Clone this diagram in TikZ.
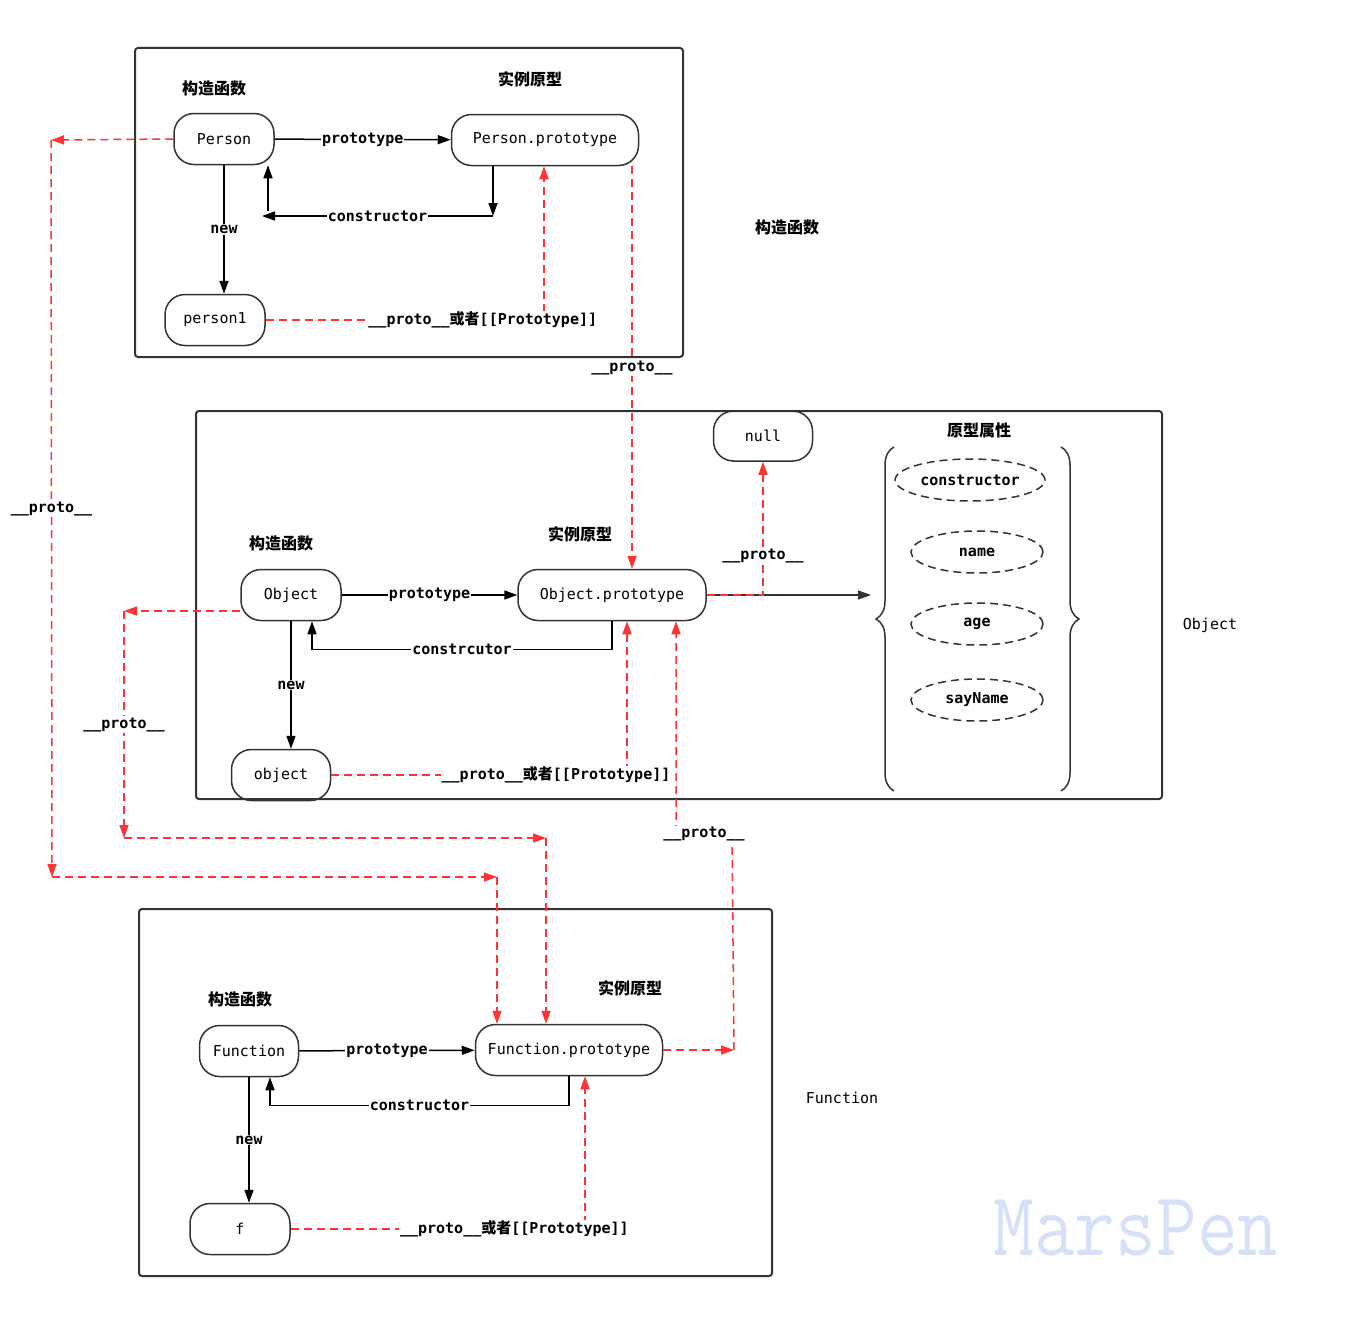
\documentclass[tikz,border=0pt]{standalone}
\usepackage{fontspec}
\setmainfont{DejaVu Sans Mono}
\newfontfamily\cjk{Noto Sans CJK SC}
\newfontfamily\markfont{Latin Modern Mono}
\usetikzlibrary{arrows.meta,shapes.geometric,decorations.pathreplacing}
\definecolor{protored}{RGB}{255,51,51}
\definecolor{framegray}{RGB}{51,51,51}
\definecolor{markblue}{RGB}{214,224,246}
\tikzset{
  frame/.style={draw=framegray, line width=2pt, rounded corners=3pt},
  obj/.style={draw=framegray, line width=1.5pt, rounded corners=20pt, minimum height=51pt, font=\fontsize{15}{15}\selectfont},
  prop/.style={draw=framegray, ellipse, line width=1.5pt, dash pattern=on 8pt off 5pt, minimum width=132pt, minimum height=42pt, font=\bfseries\fontsize{15}{15}\selectfont},
  title/.style={font=\cjk\bfseries\fontsize{16}{16}\selectfont},
  side/.style={font=\fontsize{15}{15}\selectfont},
  lbl/.style={fill=white, inner sep=1pt, font=\bfseries\fontsize{15}{15}\selectfont},
  link/.style={draw, line width=1.5pt, -{Triangle[length=13pt,width=9pt]}},
  proto/.style={draw=protored, line width=1.5pt, dash pattern=on 8pt off 5pt, -{Triangle[length=13pt,width=9pt]}},
  propbrace/.style={draw=framegray, line width=1.5pt, decorate, decoration={brace, amplitude=18pt, aspect=0.5}}
}
\newcommand{\protolink}{\_\_proto\_\_{\cjk 或者}[[Prototype]]}
\begin{document}
\begin{tikzpicture}[x=1pt,y=-1pt]
\useasboundingbox (0,0) rectangle (1352,1338);
\draw[frame] (135,48) rectangle (683,357);
\draw[frame] (196,411) rectangle (1162,799);
\draw[frame] (139,909) rectangle (772,1276);

\node[title] (ctorA) at (214,88) {构造函数};
\node[title] (instA) at (530,79) {实例原型};
\node[obj, minimum width=100pt] (Person) at (224,139) {Person};
\node[obj, minimum width=187pt] (PersonProto) at (545,140) {Person.prototype};
\node[obj, minimum width=100pt] (person1) at (215,320) {person1};

\node[title] (ctorB) at (281,543) {构造函数};
\node[title] (instB) at (580,534) {实例原型};
\node[title] (propT) at (979,430) {原型属性};
\node[obj, minimum width=100pt] (Object) at (291,595) {Object};
\node[obj, minimum width=188pt] (ObjProto) at (612,595) {Object.prototype};
\node[obj, minimum width=99pt] (object) at (281,775) {object};
\node[obj, minimum width=99pt, minimum height=50pt] (null) at (763,436) {null};
\node[prop] (pCtor) at (970,480) {constructor};
\node[prop] (pName) at (977,552) {name};
\node[prop] (pAge) at (977,624) {age};
\node[prop] (pSay) at (977,700) {sayName};

\node[title] (ctorC) at (240,999) {构造函数};
\node[title] (instC) at (630,988) {实例原型};
\node[obj, minimum width=99pt] (Function) at (249,1051) {Function};
\node[obj, minimum width=187pt] (FuncProto) at (569,1050) {Function.prototype};
\node[obj, minimum width=100pt] (f) at (240,1229) {f};

\node[title] (sideA) at (787,227) {构造函数};
\node[side] (sideB) at (1210,625) {Object};
\node[side] (sideC) at (842,1098) {Function};
\node[text=markblue, font=\markfont\fontsize{79}{79}\selectfont] (mark) at (1136,1228) {\scalebox{1}[1.15]{MarsPen}};

\coordinate (pBend) at (493,216);
\coordinate (pBack) at (262,216);
\coordinate (pLeft) at (51,140);
\coordinate (pDown) at (52,877);
\coordinate (pRight) at (497,877);
\coordinate (oLeft) at (124,611);
\coordinate (oDown) at (124,838);
\coordinate (oRight) at (546,838);
\coordinate (fEnd) at (734,1050);
\coordinate (fUp) at (732,834);
\coordinate (oUp) at ([xshift=64pt]ObjProto.south);
\coordinate (braceTip) at (871,595);

\path[link] (Person) -- node[lbl]{prototype} (PersonProto);
\path[link] ([xshift=-52pt]PersonProto.south) -- (pBend);
\path[link] (pBend) -- node[lbl]{constructor} (pBack);
\path[link] ([xshift=6pt,yshift=5pt]pBack) -- ([xshift=44pt]Person.south);
\path[link] (Person.south) -- node[lbl]{new} (Person.south |- person1.north);
\path[proto] (person1) -| node[lbl, pos=0.39]{\protolink} ([xshift=-1pt]PersonProto.south);
\path[proto] ([xshift=87pt]PersonProto.south) -- node[lbl]{\_\_proto\_\_} ([xshift=20pt]ObjProto.north);
\path[proto] (Person.west) -- (pLeft);
\path[proto] (pLeft) -- node[lbl]{\_\_proto\_\_} (pDown);
\path[proto] (pDown) -- (pRight);
\path[proto] (pRight) -- (FuncProto.north -| pRight);

\path[link] (Object) -- node[lbl]{prototype} (ObjProto);
\path[link] (ObjProto.south) -- ++(0,28) -| node[lbl, pos=0.25]{constrcutor} ([xshift=21pt]Object.south);
\path[link] (Object.south) -- node[lbl]{new} (Object.south |- object.north);
\path[proto] (object) -| node[lbl, pos=0.38]{\protolink} ([xshift=15pt]ObjProto.south);
\path[link, draw=framegray] (ObjProto.east) -- (braceTip);
\path[proto] (ObjProto) -| node[lbl, pos=0.645]{\_\_proto\_\_} (null);
\draw[propbrace] (894,791) -- (894,447);
\draw[propbrace] (1061,447) -- (1061,791);
\path[proto] ([yshift=-16pt]Object.west) -- (oLeft);
\path[proto] (oLeft) -- node[lbl]{\_\_proto\_\_} (oDown);
\path[proto] (oDown) -- (oRight);
\path[proto] (oRight) -- (FuncProto.north -| oRight);

\path[link] (Function) -- node[lbl]{prototype} (FuncProto);
\path[link] (FuncProto.south) -- ++(0,29) -| node[lbl, pos=0.25]{constructor} ([xshift=21pt]Function.south);
\path[link] (Function.south) -- node[lbl]{new} (Function.south |- f.north);
\path[proto] (f) -| node[lbl, pos=0.38]{\protolink} ([xshift=16pt]FuncProto.south);
\path[proto] (FuncProto.east) -- (fEnd);
\path[proto] (fEnd) -- (fUp) -- node[lbl]{\_\_proto\_\_} (fUp -| oUp) -- (oUp);
\end{tikzpicture}
\end{document}
